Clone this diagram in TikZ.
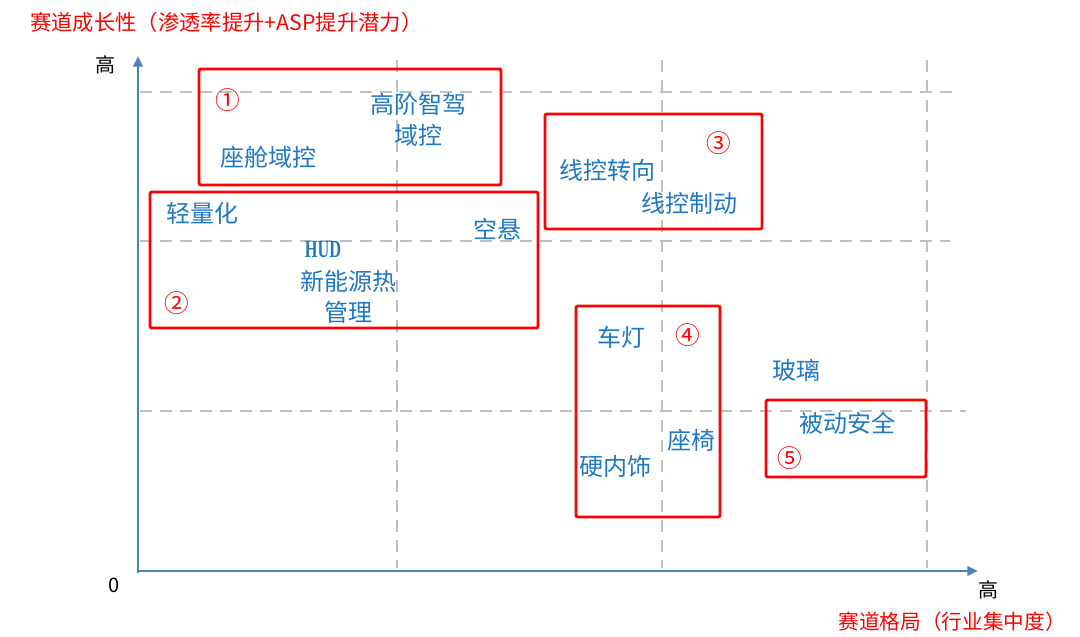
\documentclass[tikz,border=0pt]{standalone}
\usepackage{fontspec}
\setmainfont{Noto Sans CJK SC}
\newfontfamily\hudfont{Liberation Serif}
\usetikzlibrary{arrows.meta}
\definecolor{axisblue}{HTML}{4F81BD}
\definecolor{itemblue}{HTML}{1F78C4}
\definecolor{gridgray}{HTML}{BFBFBF}
\definecolor{boxred}{HTML}{FF0000}
\begin{document}
\begin{tikzpicture}[x=0.75pt,y=-0.75pt,
  item/.style={text=itemblue,font=\fontsize{18}{23}\selectfont,inner sep=0pt,align=center},
  num/.style={text=boxred,font=\fontsize{18.5}{20}\selectfont,inner sep=0pt},
  grp/.style={draw=boxred,line width=2.2pt,rounded corners=1.5pt},
  gridline/.style={draw=gridgray,line width=1.9pt,dash pattern=on 9pt off 6pt},
  axisline/.style={draw=axisblue,line width=2.2pt,-{Triangle[length=8pt,width=7pt]}},
  redtitle/.style={text=boxred,font=\fontsize{16}{19}\selectfont,inner sep=0pt},
  axlabel/.style={text=black,font=\fontsize{15}{18}\selectfont,inner sep=0pt}
]
\useasboundingbox (0,0) rectangle (1080,636);
\fill[white] (0,0) rectangle (1080,636);

% grid
\draw[gridline] (140,92) -- (953,92);
\draw[gridline] (140,241) -- (950,241);
\draw[gridline] (140,411) -- (966,411);
\draw[gridline] (397,60) -- (397,568);
\draw[gridline] (662,60) -- (662,568);
\draw[gridline] (927,60) -- (927,568);

% axes
\coordinate (O) at (138,571);
\coordinate (ytip) at (138,56);
\coordinate (xtip) at (978,571);
\coordinate (Ob) at (138,572.5);
\coordinate (Ol) at (136.5,571);
\draw[axisline] (Ob) -- (ytip);
\draw[axisline] (Ol) -- (xtip);

% titles and axis labels
\node[redtitle,anchor=west] (ytitle) at (30,22) {赛道成长性（渗透率提升+ASP提升潜力）};
\node[redtitle,anchor=east,font=\fontsize{15.5}{19}\selectfont] (xtitle) at (1066,622) {赛道格局（行业集中度）};
\node[axlabel] (yhigh) at (105,65) {高};
\node[axlabel] (xhigh) at (988,590) {高};
\node[axlabel] (zero) at (114,585) {0};

% group boxes
\draw[grp] (199,69) rectangle (501,185);
\draw[grp] (150,192) rectangle (538,328);
\draw[grp] (545,114) rectangle (762,229);
\draw[grp] (576,306) rectangle (720,517);
\draw[grp] (766,400) rectangle (926,477);

% numbers
\node[num] (n1) at (228,100) {①};
\node[num] (n2) at (177,303) {②};
\node[num] (n3) at (719,143) {③};
\node[num] (n4) at (688,335) {④};
\node[num] (n5) at (790,458) {⑤};

% items
\node[item] (adas) at (418,120) {高阶智驾\\域控};
\node[item] (cockpit) at (268,157) {座舱域控};
\node[item] (light) at (202,213) {轻量化};
\node[item] (air) at (497,229) {空悬};
\node[item,font=\hudfont\bfseries\fontsize{18.5}{21}\selectfont] (hud) at (323,250) {\scalebox{0.66}[1]{HUD}};
\node[item] (thermal) at (348,297) {新能源热\\管理};
\node[item] (steer) at (607,170) {线控转向};
\node[item] (brake) at (689,203) {线控制动};
\node[item] (lamp) at (621,337) {车灯};
\node[item] (glass) at (796,370) {玻璃};
\node[item] (safety) at (847,423) {被动安全};
\node[item] (seat) at (691,440) {座椅};
\node[item] (trim) at (615,466) {硬内饰};
\end{tikzpicture}
\end{document}
